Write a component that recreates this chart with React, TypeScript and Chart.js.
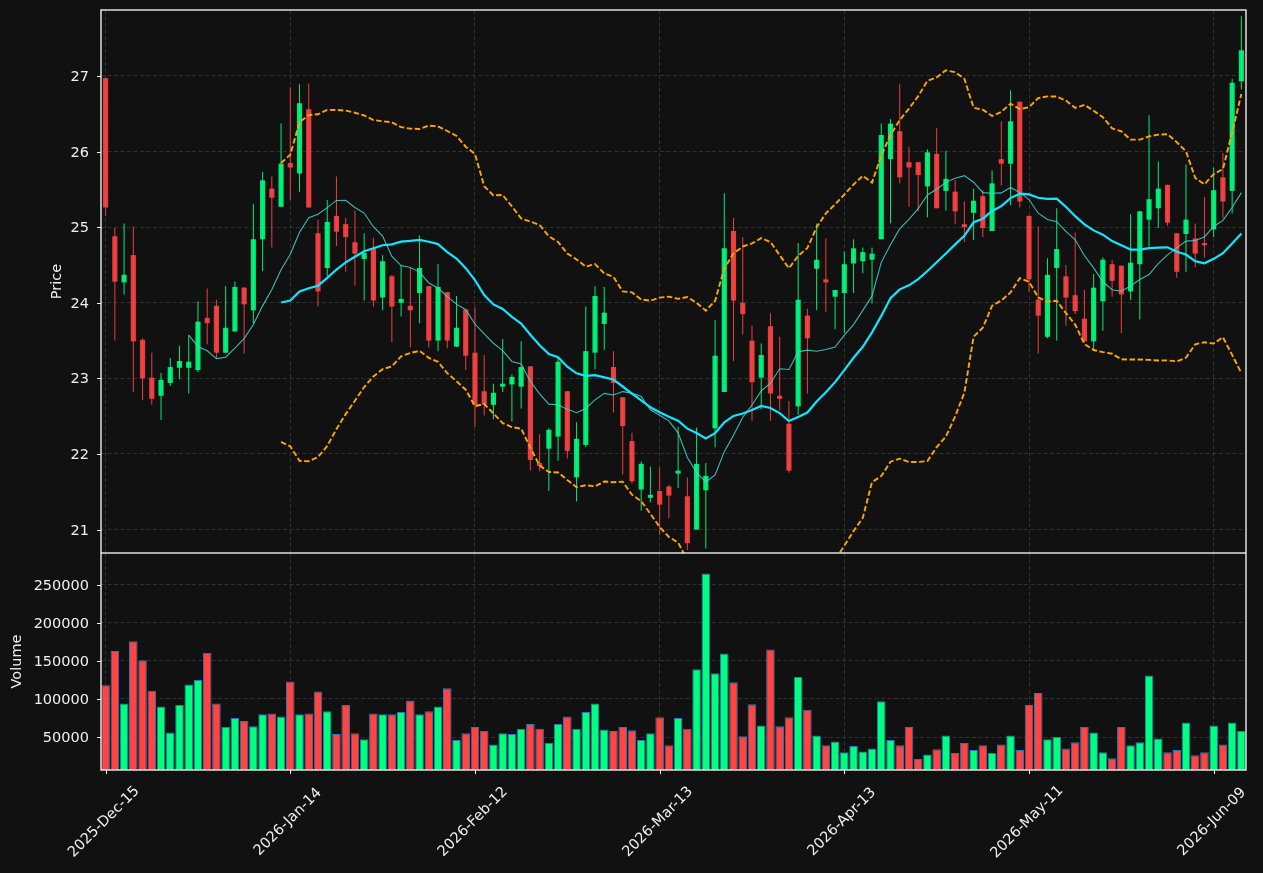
import React, { useEffect, useRef } from 'react';
import { Chart, registerables } from 'chart.js';

Chart.register(...registerables);

// ---------- data ----------
const tickPositions = [0, 20, 40, 60, 80, 100, 120];
const tickLabels = ['2025-Dec-15', '2026-Jan-14', '2026-Feb-12', '2026-Mar-13', '2026-Apr-13', '2026-May-11', '2026-Jun-09'];
const priceTicks = [21, 22, 23, 24, 25, 26, 27];
const volumeTicks = [50000, 100000, 150000, 200000, 250000];

const opens = [
  26.97, 24.88, 24.27, 24.63, 23.51, 23.01, 22.77, 22.94, 23.14, 23.14,
  23.11, 23.80, 23.96, 23.34, 23.62, 24.20, 23.90, 24.84, 25.51, 25.27,
  25.85, 25.71, 26.56, 24.92, 24.46, 25.15, 25.04, 24.80, 24.58, 24.72,
  24.07, 24.35, 24.00, 23.96, 24.13, 24.22, 23.50, 24.14, 23.42, 23.91,
  23.34, 22.83, 22.65, 22.89, 22.92, 22.89, 23.16, 21.88, 22.07, 22.23,
  22.83, 21.69, 22.12, 23.34, 23.72, 23.15, 22.75, 22.17, 21.53, 21.42,
  21.51, 21.57, 21.74, 21.44, 21.00, 21.52, 22.34, 22.82, 24.95, 24.00,
  23.50, 23.01, 23.69, 22.77, 22.40, 22.63, 23.83, 24.45, 24.31, 24.08,
  24.13, 24.52, 24.55, 24.57, 24.84, 25.90, 26.27, 25.86, 25.86, 25.54,
  25.97, 25.48, 25.47, 25.04, 25.19, 25.41, 24.95, 25.90, 25.84, 26.66,
  25.15, 24.04, 23.55, 24.46, 24.35, 24.10, 23.79, 23.49, 24.02, 24.51,
  24.49, 24.15, 24.51, 25.10, 25.25, 25.56, 24.92, 24.91, 24.85, 24.79,
  24.97, 25.66, 25.48, 26.93,
];
const highs = [
  26.98, 24.99, 25.05, 25.01, 23.53, 23.34, 23.07, 23.27, 23.43, 23.57,
  24.02, 24.19, 24.04, 24.22, 24.28, 24.21, 25.31, 25.73, 25.67, 26.37,
  26.85, 26.89, 26.90, 25.10, 25.36, 25.67, 25.12, 25.22, 24.92, 24.86,
  24.63, 24.37, 24.50, 24.46, 24.89, 24.22, 24.51, 24.14, 24.09, 23.91,
  23.94, 23.31, 22.93, 23.52, 23.05, 23.49, 23.16, 22.26, 22.34, 23.28,
  22.83, 22.42, 23.95, 24.22, 24.21, 23.36, 22.75, 22.28, 21.90, 21.83,
  21.82, 21.59, 22.36, 21.69, 22.35, 21.88, 23.77, 25.45, 25.12, 24.87,
  23.70, 23.46, 23.86, 23.55, 22.70, 24.79, 23.92, 25.05, 24.85, 24.17,
  24.68, 24.84, 24.73, 24.73, 26.37, 26.43, 26.89, 26.06, 25.86, 26.03,
  26.31, 26.01, 25.62, 25.34, 25.51, 25.49, 25.75, 26.40, 26.81, 26.66,
  25.15, 25.01, 24.59, 25.25, 24.50, 24.93, 24.17, 24.38, 24.60, 24.57,
  24.49, 25.17, 25.21, 26.48, 25.87, 25.56, 24.92, 25.83, 25.05, 25.40,
  25.79, 25.98, 26.96, 27.79,
];
const lows = [
  25.15, 23.50, 24.11, 22.82, 22.71, 22.65, 22.45, 22.90, 22.99, 22.80,
  23.08, 23.45, 23.27, 23.33, 23.62, 23.33, 23.73, 24.42, 24.73, 25.27,
  25.36, 25.47, 25.26, 23.95, 24.35, 24.75, 24.41, 24.23, 24.03, 23.95,
  23.90, 23.48, 23.82, 23.41, 23.73, 23.41, 23.36, 23.40, 23.42, 23.11,
  22.36, 22.51, 22.46, 22.82, 22.43, 22.60, 21.78, 21.77, 21.51, 21.91,
  21.94, 21.37, 22.09, 23.12, 23.38, 22.55, 21.73, 21.61, 21.25, 21.36,
  20.93, 21.15, 21.55, 20.73, 21.00, 20.75, 22.09, 22.82, 23.23, 23.58,
  22.44, 22.59, 22.44, 22.58, 21.75, 22.52, 22.80, 23.90, 23.88, 23.65,
  23.60, 24.13, 24.39, 23.99, 24.84, 25.05, 25.58, 25.27, 25.21, 25.13,
  25.25, 25.22, 25.04, 24.80, 24.83, 24.87, 24.95, 25.55, 25.29, 25.26,
  24.15, 23.33, 23.53, 23.50, 23.70, 23.85, 23.48, 23.37, 23.63, 24.08,
  23.60, 24.04, 23.78, 24.74, 24.99, 25.02, 24.33, 24.41, 24.47, 24.60,
  24.87, 25.12, 25.18, 26.82,
];
const closes = [
  25.26, 24.28, 24.37, 23.49, 23.00, 22.73, 22.98, 23.15, 23.23, 23.22,
  23.75, 23.73, 23.34, 23.67, 24.21, 23.98, 24.84, 25.62, 25.39, 25.84,
  25.79, 26.64, 25.26, 24.15, 25.07, 24.94, 24.87, 24.65, 24.66, 24.03,
  24.55, 23.95, 24.05, 23.90, 24.46, 23.50, 24.21, 23.50, 23.67, 23.30,
  22.65, 22.65, 22.81, 22.93, 23.02, 23.15, 21.92, 21.84, 22.32, 23.22,
  22.04, 22.20, 23.36, 24.09, 23.87, 22.94, 22.37, 21.64, 21.87, 21.46,
  21.33, 21.45, 21.78, 20.82, 21.87, 21.71, 23.30, 24.72, 24.03, 23.85,
  22.95, 23.31, 22.80, 22.73, 21.78, 24.04, 23.53, 24.57, 24.27, 24.17,
  24.51, 24.72, 24.67, 24.65, 26.22, 26.37, 25.66, 25.79, 25.69, 25.99,
  25.25, 25.64, 25.21, 25.00, 25.35, 24.99, 25.58, 25.84, 26.40, 25.34,
  24.31, 23.83, 24.37, 24.71, 24.07, 23.89, 23.49, 24.20, 24.57, 24.29,
  24.11, 24.53, 25.21, 25.37, 25.51, 25.06, 24.41, 25.10, 24.65, 24.76,
  25.49, 25.34, 26.91, 27.34,
];
const volumes = [
  118000, 163000, 94000, 176000, 151000, 111000, 90000, 56000, 92000, 119000,
  125000, 161000, 94000, 63000, 75000, 71000, 64000, 80000, 81000, 77000,
  123000, 80000, 81000, 110000, 84000, 54000, 92000, 55000, 47000, 81000,
  80000, 80000, 83000, 98000, 80000, 84000, 90000, 114000, 46000, 55000,
  63000, 58000, 40000, 55000, 54000, 61000, 67000, 61000, 42000, 67000,
  77000, 61000, 83000, 94000, 60000, 58000, 63000, 59000, 46000, 55000,
  76000, 39000, 75000, 61000, 139000, 265000, 134000, 160000, 122000, 51000,
  93000, 65000, 165000, 64000, 76000, 129000, 86000, 52000, 39000, 44000,
  30000, 38000, 31000, 35000, 97000, 46000, 39000, 63000, 21000, 27000,
  34000, 52000, 29000, 42000, 33000, 39000, 29000, 40000, 52000, 33000,
  92000, 108000, 47000, 50000, 35000, 43000, 63000, 56000, 30000, 22000,
  63000, 39000, 43000, 131000, 48000, 30000, 33000, 69000, 26000, 30000,
  65000, 40000, 69000, 58000,
];

// ---------- styling ----------
const BG = '#111111';
const GRID = '#3a3a3a';
const TEXT = '#f0f0f0';
const FRAME = '#ffffff';
const FONT = "'DejaVu Sans', 'Liberation Sans', sans-serif";
const FS = 14.5;
const UP = 'rgba(0,255,127,0.9)';
const DOWN = 'rgba(255,68,68,0.9)';
const UP_VOL = '#00ff7f';
const DOWN_VOL = '#ff4444';

const W = 1263;
const H = 873;
const TOP_H = 553; // top canvas height
const LEFT = 101;
const RIGHT_PAD = 17;
const X_MIN = -0.5;
const X_MAX = 123.5;
const PRICE_MAX = 27.873;
const PRICE_MIN = 20.69;
const VOL_MIN = 6580;
const VOL_MAX = 292100;

// indicator helpers (derived from the closes above)
function rolling(arr: number[], n: number, fn: (w: number[]) => number) {
  const out: { x: number; y: number }[] = [];
  for (let i = n - 1; i < arr.length; i++) out.push({ x: i, y: fn(arr.slice(i - n + 1, i + 1)) });
  return out;
}
const mean = (w: number[]) => w.reduce((a, b) => a + b, 0) / w.length;
const std = (w: number[]) => {
  const m = mean(w);
  return Math.sqrt(w.reduce((a, b) => a + (b - m) * (b - m), 0) / w.length);
};

const isUp = closes.map((c, i) => c >= opens[i]);

function xScale(height: number) {
  return {
    type: 'linear',
    min: X_MIN,
    max: X_MAX,
    offset: false,
    grid: { color: GRID, lineWidth: 0.8, drawTicks: false, offset: false },
    border: { display: false, dash: [4, 2.5] },
    ticks: { display: false },
    afterBuildTicks: (s: any) => {
      s.ticks = tickPositions.map((v) => ({ value: v }));
    },
    afterFit: (s: any) => {
      s.height = height;
      s.paddingLeft = 0;
      s.paddingRight = 0;
      s.paddingTop = 0;
      s.paddingBottom = 0;
    },
  };
}

function yScale(min: number, max: number, ticks: number[]) {
  return {
    type: 'linear',
    min,
    max,
    grid: { color: GRID, lineWidth: 0.8, drawTicks: false },
    border: { display: false, dash: [4, 2.5] },
    ticks: { display: false },
    afterBuildTicks: (s: any) => {
      s.ticks = ticks.map((v) => ({ value: v }));
    },
    afterFit: (s: any) => {
      s.width = LEFT;
      s.paddingTop = 0;
      s.paddingBottom = 0;
      s.paddingLeft = 0;
      s.paddingRight = 0;
    },
  };
}

function decor(kind: 'price' | 'volume') {
  return {
    id: 'decor_' + kind,
    afterDraw(chart: any) {
      const { ctx, chartArea: a, scales } = chart;
      ctx.save();
      ctx.setLineDash([]);
      // frame
      ctx.strokeStyle = FRAME;
      ctx.lineWidth = 1.3;
      ctx.strokeRect(a.left, a.top, a.right - a.left, a.bottom - a.top);
      // y ticks
      const ys = scales.y;
      const ticks = kind === 'price' ? priceTicks : volumeTicks;
      ctx.font = `${FS}px ${FONT}`;
      ctx.fillStyle = TEXT;
      ctx.textAlign = 'right';
      ctx.textBaseline = 'middle';
      ctx.lineWidth = 1;
      for (const v of ticks) {
        const py = Math.round(ys.getPixelForValue(v)) + 0.5;
        ctx.beginPath();
        ctx.moveTo(a.left - 4, py);
        ctx.lineTo(a.left, py);
        ctx.stroke();
        ctx.fillText(String(v), a.left - 12, py + 1);
      }
      // axis title
      ctx.save();
      const tx = kind === 'price' ? 57 : 17;
      ctx.translate(tx, (a.top + a.bottom) / 2);
      ctx.rotate(-Math.PI / 2);
      ctx.textAlign = 'center';
      ctx.textBaseline = 'middle';
      ctx.fillText(kind === 'price' ? 'Price' : 'Volume', 0, 0);
      ctx.restore();
      // x ticks + labels on the lower panel
      if (kind === 'volume') {
        const xs = scales.x;
        tickPositions.forEach((v, i) => {
          const px = Math.round(xs.getPixelForValue(v)) + 0.5;
          ctx.beginPath();
          ctx.moveTo(px, a.bottom);
          ctx.lineTo(px, a.bottom + 4);
          ctx.stroke();
          ctx.save();
          ctx.translate(px - 2.5, a.bottom + 52);
          ctx.rotate(-Math.PI / 4);
          ctx.textAlign = 'center';
          ctx.textBaseline = 'middle';
          ctx.fillText(tickLabels[i], 0, 0);
          ctx.restore();
        });
      }
      ctx.restore();
    },
  };
}

export default function App() {
  const topRef = useRef<HTMLCanvasElement>(null);
  const botRef = useRef<HTMLCanvasElement>(null);

  useEffect(() => {
    const ma10 = rolling(closes, 10, mean);
    const ma20 = rolling(closes, 20, mean);
    const sd20 = rolling(closes, 20, std);
    const upper = ma20.map((p, i) => ({ x: p.x, y: p.y + 2 * sd20[i].y }));
    const lower = ma20.map((p, i) => ({ x: p.x, y: p.y - 2 * sd20[i].y }));

    const candleColors = isUp.map((u) => (u ? UP : DOWN));

    const top = new Chart(topRef.current as HTMLCanvasElement, {
      type: 'bar',
      data: {
        datasets: [
          {
            type: 'line',
            label: 'MA20',
            data: ma20,
            borderColor: '#14e4ff',
            borderWidth: 2.2,
            pointRadius: 0,
            tension: 0,
            fill: false,
            order: 0,
            clip: 0,
          } as any,
          {
            type: 'line',
            label: 'MA10',
            data: ma10,
            borderColor: 'rgba(72,214,210,0.85)',
            borderWidth: 1.1,
            pointRadius: 0,
            tension: 0,
            fill: false,
            order: 1,
            clip: 0,
          } as any,
          {
            type: 'line',
            label: 'Upper',
            data: upper,
            borderColor: '#ffa500',
            borderWidth: 1.9,
            borderDash: [5.5, 2.5],
            pointRadius: 0,
            tension: 0,
            fill: false,
            order: 2,
            clip: 0,
          } as any,
          {
            type: 'line',
            label: 'Lower',
            data: lower,
            borderColor: '#ffa500',
            borderWidth: 1.9,
            borderDash: [5.5, 2.5],
            pointRadius: 0,
            tension: 0,
            fill: false,
            order: 2,
            clip: 0,
          } as any,
          {
            type: 'bar',
            label: 'Body',
            data: opens.map((o, i) => ({ x: i, y: [o, closes[i]] })),
            backgroundColor: candleColors,
            borderWidth: 0,
            grouped: false,
            categoryPercentage: 1,
            barPercentage: 0.56,
            minBarLength: 1,
            order: 3,
          } as any,
          {
            type: 'bar',
            label: 'Wick',
            data: highs.map((h, i) => ({ x: i, y: [lows[i], h] })),
            backgroundColor: candleColors,
            borderWidth: 0,
            grouped: false,
            categoryPercentage: 1,
            barPercentage: 0.11,
            order: 4,
          } as any,
        ],
      },
      options: {
        responsive: false,
        animation: false,
        devicePixelRatio: 1,
        events: [],
        layout: { padding: { top: 10, right: RIGHT_PAD, left: 0, bottom: 0 } },
        plugins: { legend: { display: false }, tooltip: { enabled: false } },
        scales: {
          x: xScale(0) as any,
          y: yScale(PRICE_MIN, PRICE_MAX, priceTicks) as any,
        },
      },
      plugins: [decor('price')],
    });

    const bot = new Chart(botRef.current as HTMLCanvasElement, {
      type: 'bar',
      data: {
        datasets: [
          {
            label: 'Volume',
            data: volumes.map((v, i) => ({ x: i, y: v })),
            backgroundColor: isUp.map((u) => (u ? UP_VOL : DOWN_VOL)),
            borderColor: '#2a78b8',
            borderWidth: 1,
            borderSkipped: false,
            grouped: false,
            categoryPercentage: 1,
            barPercentage: 0.93,
          } as any,
        ],
      },
      options: {
        responsive: false,
        animation: false,
        devicePixelRatio: 1,
        events: [],
        layout: { padding: { top: 0, right: RIGHT_PAD, left: 0, bottom: 0 } },
        plugins: { legend: { display: false }, tooltip: { enabled: false } },
        scales: {
          x: xScale(H - 770) as any,
          y: yScale(VOL_MIN, VOL_MAX, volumeTicks) as any,
        },
      },
      plugins: [decor('volume')],
    });

    return () => {
      top.destroy();
      bot.destroy();
    };
  }, []);

  return (
    <div style={{ position: 'fixed', left: 0, top: 0, width: W, height: H, background: BG, overflow: 'hidden' }}>
      <canvas ref={topRef} width={W} height={TOP_H} style={{ position: 'absolute', left: 0, top: 0 }} />
      <canvas ref={botRef} width={W} height={H - TOP_H} style={{ position: 'absolute', left: 0, top: TOP_H }} />
    </div>
  );
}
